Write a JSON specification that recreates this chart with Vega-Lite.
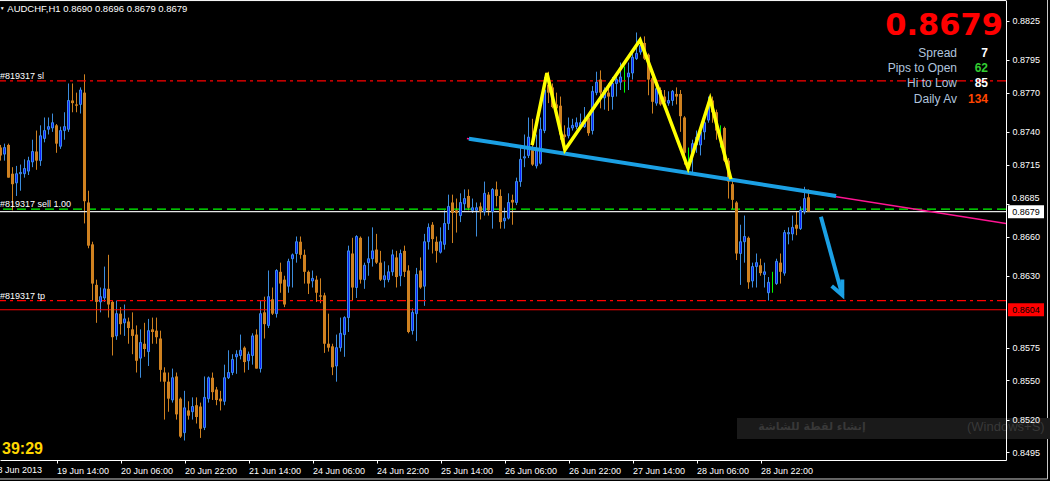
{
"$schema": "https://vega.github.io/schema/vega-lite/v6.json",
"width": 1006, "height": 460,
"autosize": {"type": "none"},
"padding": {"left": 0, "top": 0, "right": 44, "bottom": 21},
"background": "#000000",
"config": {"view": {"stroke": null}, "text": {"font": "Liberation Sans"}},
"datasets": {
"candles": [
{"i":0,"o":0.8728,"h":0.8730,"l":0.8718,"c":0.8722},
{"i":1,"o":0.8723,"h":0.8731,"l":0.8718,"c":0.8728},
{"i":2,"o":0.8730,"h":0.8731,"l":0.8705,"c":0.8705},
{"i":3,"o":0.8708,"h":0.8713,"l":0.8680,"c":0.8700},
{"i":4,"o":0.8701,"h":0.8714,"l":0.8691,"c":0.8708},
{"i":5,"o":0.8708,"h":0.8715,"l":0.8695,"c":0.8709},
{"i":6,"o":0.8708,"h":0.8719,"l":0.8705,"c":0.8712},
{"i":7,"o":0.8710,"h":0.8721,"l":0.8707,"c":0.8718},
{"i":8,"o":0.8717,"h":0.8734,"l":0.8713,"c":0.8725},
{"i":9,"o":0.8725,"h":0.8741,"l":0.8711,"c":0.8718},
{"i":10,"o":0.8718,"h":0.8745,"l":0.8714,"c":0.8737},
{"i":11,"o":0.8735,"h":0.8751,"l":0.8732,"c":0.8741},
{"i":12,"o":0.8742,"h":0.8751,"l":0.8738,"c":0.8744},
{"i":13,"o":0.8743,"h":0.8754,"l":0.8740,"c":0.8747},
{"i":14,"o":0.8745,"h":0.8746,"l":0.8724,"c":0.8731},
{"i":15,"o":0.8729,"h":0.8744,"l":0.8727,"c":0.8741},
{"i":16,"o":0.8741,"h":0.8755,"l":0.8734,"c":0.8744},
{"i":17,"o":0.8742,"h":0.8777,"l":0.8740,"c":0.8764},
{"i":18,"o":0.8764,"h":0.8777,"l":0.8755,"c":0.8762},
{"i":19,"o":0.8761,"h":0.8770,"l":0.8755,"c":0.8760},
{"i":20,"o":0.8761,"h":0.8774,"l":0.8754,"c":0.8772},
{"i":21,"o":0.8770,"h":0.8784,"l":0.8670,"c":0.8687},
{"i":22,"o":0.8686,"h":0.8695,"l":0.8651,"c":0.8653},
{"i":23,"o":0.8654,"h":0.8656,"l":0.8611,"c":0.8624},
{"i":24,"o":0.8623,"h":0.8627,"l":0.8594,"c":0.8610},
{"i":25,"o":0.8610,"h":0.8621,"l":0.8602,"c":0.8614},
{"i":26,"o":0.8613,"h":0.8637,"l":0.8610,"c":0.8620},
{"i":27,"o":0.8620,"h":0.8646,"l":0.8598,"c":0.8608},
{"i":28,"o":0.8610,"h":0.8611,"l":0.8569,"c":0.8583},
{"i":29,"o":0.8584,"h":0.8611,"l":0.8581,"c":0.8601},
{"i":30,"o":0.8601,"h":0.8606,"l":0.8585,"c":0.8593},
{"i":31,"o":0.8594,"h":0.8608,"l":0.8584,"c":0.8597},
{"i":32,"o":0.8595,"h":0.8598,"l":0.8578,"c":0.8590},
{"i":33,"o":0.8589,"h":0.8602,"l":0.8570,"c":0.8584},
{"i":34,"o":0.8585,"h":0.8592,"l":0.8556,"c":0.8565},
{"i":35,"o":0.8567,"h":0.8589,"l":0.8552,"c":0.8579},
{"i":36,"o":0.8578,"h":0.8594,"l":0.8568,"c":0.8574},
{"i":37,"o":0.8572,"h":0.8597,"l":0.8561,"c":0.8588},
{"i":38,"o":0.8589,"h":0.8598,"l":0.8578,"c":0.8587},
{"i":39,"o":0.8588,"h":0.8598,"l":0.8578,"c":0.8583},
{"i":40,"o":0.8582,"h":0.8588,"l":0.8549,"c":0.8558},
{"i":41,"o":0.8556,"h":0.8560,"l":0.8520,"c":0.8549},
{"i":42,"o":0.8549,"h":0.8556,"l":0.8526,"c":0.8536},
{"i":43,"o":0.8535,"h":0.8559,"l":0.8533,"c":0.8552},
{"i":44,"o":0.8553,"h":0.8556,"l":0.8520,"c":0.8524},
{"i":45,"o":0.8536,"h":0.8537,"l":0.8506,"c":0.8507},
{"i":46,"o":0.8510,"h":0.8542,"l":0.8504,"c":0.8529},
{"i":47,"o":0.8527,"h":0.8534,"l":0.8520,"c":0.8523},
{"i":48,"o":0.8526,"h":0.8537,"l":0.8520,"c":0.8530},
{"i":49,"o":0.8531,"h":0.8537,"l":0.8517,"c":0.8522},
{"i":50,"o":0.8530,"h":0.8533,"l":0.8506,"c":0.8513},
{"i":51,"o":0.8514,"h":0.8553,"l":0.8512,"c":0.8537},
{"i":52,"o":0.8536,"h":0.8553,"l":0.8533,"c":0.8552},
{"i":53,"o":0.8552,"h":0.8556,"l":0.8535,"c":0.8541},
{"i":54,"o":0.8543,"h":0.8545,"l":0.8531,"c":0.8535},
{"i":55,"o":0.8536,"h":0.8542,"l":0.8527,"c":0.8534},
{"i":56,"o":0.8534,"h":0.8562,"l":0.8531,"c":0.8552},
{"i":57,"o":0.8552,"h":0.8573,"l":0.8551,"c":0.8556},
{"i":58,"o":0.8556,"h":0.8570,"l":0.8554,"c":0.8566},
{"i":59,"o":0.8568,"h":0.8573,"l":0.8555,"c":0.8570},
{"i":60,"o":0.8569,"h":0.8585,"l":0.8566,"c":0.8573},
{"i":61,"o":0.8575,"h":0.8576,"l":0.8556,"c":0.8564},
{"i":62,"o":0.8565,"h":0.8572,"l":0.8558,"c":0.8570},
{"i":63,"o":0.8569,"h":0.8586,"l":0.8562,"c":0.8584},
{"i":64,"o":0.8585,"h":0.8589,"l":0.8559,"c":0.8559},
{"i":65,"o":0.8559,"h":0.8611,"l":0.8556,"c":0.8601},
{"i":66,"o":0.8602,"h":0.8614,"l":0.8582,"c":0.8593},
{"i":67,"o":0.8592,"h":0.8634,"l":0.8590,"c":0.8614},
{"i":68,"o":0.8612,"h":0.8621,"l":0.8600,"c":0.8601},
{"i":69,"o":0.8601,"h":0.8635,"l":0.8598,"c":0.8634},
{"i":70,"o":0.8633,"h":0.8640,"l":0.8617,"c":0.8624},
{"i":71,"o":0.8627,"h":0.8630,"l":0.8606,"c":0.8608},
{"i":72,"o":0.8622,"h":0.8643,"l":0.8617,"c":0.8641},
{"i":73,"o":0.8643,"h":0.8647,"l":0.8621,"c":0.8646},
{"i":74,"o":0.8647,"h":0.8660,"l":0.8640,"c":0.8656},
{"i":75,"o":0.8656,"h":0.8660,"l":0.8643,"c":0.8646},
{"i":76,"o":0.8646,"h":0.8650,"l":0.8624,"c":0.8633},
{"i":77,"o":0.8633,"h":0.8634,"l":0.8616,"c":0.8624},
{"i":78,"o":0.8626,"h":0.8634,"l":0.8621,"c":0.8628},
{"i":79,"o":0.8627,"h":0.8630,"l":0.8610,"c":0.8617},
{"i":80,"o":0.8615,"h":0.8628,"l":0.8609,"c":0.8614},
{"i":81,"o":0.8615,"h":0.8617,"l":0.8571,"c":0.8578},
{"i":82,"o":0.8578,"h":0.8601,"l":0.8572,"c":0.8575},
{"i":83,"o":0.8576,"h":0.8578,"l":0.8554,"c":0.8560},
{"i":84,"o":0.8561,"h":0.8585,"l":0.8549,"c":0.8575},
{"i":85,"o":0.8575,"h":0.8598,"l":0.8572,"c":0.8586},
{"i":86,"o":0.8585,"h":0.8599,"l":0.8568,"c":0.8598},
{"i":87,"o":0.8598,"h":0.8653,"l":0.8587,"c":0.8649},
{"i":88,"o":0.8647,"h":0.8659,"l":0.8611,"c":0.8621},
{"i":89,"o":0.8621,"h":0.8661,"l":0.8613,"c":0.8660},
{"i":90,"o":0.8659,"h":0.8660,"l":0.8624,"c":0.8627},
{"i":91,"o":0.8627,"h":0.8640,"l":0.8620,"c":0.8638},
{"i":92,"o":0.8640,"h":0.8660,"l":0.8630,"c":0.8643},
{"i":93,"o":0.8643,"h":0.8667,"l":0.8637,"c":0.8649},
{"i":94,"o":0.8650,"h":0.8662,"l":0.8639,"c":0.8640},
{"i":95,"o":0.8640,"h":0.8649,"l":0.8626,"c":0.8627},
{"i":96,"o":0.8627,"h":0.8641,"l":0.8621,"c":0.8630},
{"i":97,"o":0.8627,"h":0.8638,"l":0.8625,"c":0.8633},
{"i":98,"o":0.8633,"h":0.8650,"l":0.8630,"c":0.8646},
{"i":99,"o":0.8644,"h":0.8649,"l":0.8621,"c":0.8629},
{"i":100,"o":0.8630,"h":0.8650,"l":0.8622,"c":0.8647},
{"i":101,"o":0.8649,"h":0.8653,"l":0.8629,"c":0.8633},
{"i":102,"o":0.8634,"h":0.8638,"l":0.8586,"c":0.8587},
{"i":103,"o":0.8588,"h":0.8605,"l":0.8585,"c":0.8602},
{"i":104,"o":0.8601,"h":0.8636,"l":0.8580,"c":0.8631},
{"i":105,"o":0.8634,"h":0.8644,"l":0.8620,"c":0.8621},
{"i":106,"o":0.8622,"h":0.8662,"l":0.8607,"c":0.8656},
{"i":107,"o":0.8656,"h":0.8670,"l":0.8650,"c":0.8667},
{"i":108,"o":0.8669,"h":0.8671,"l":0.8647,"c":0.8658},
{"i":109,"o":0.8656,"h":0.8660,"l":0.8640,"c":0.8649},
{"i":110,"o":0.8648,"h":0.8667,"l":0.8647,"c":0.8656},
{"i":111,"o":0.8654,"h":0.8680,"l":0.8650,"c":0.8670},
{"i":112,"o":0.8670,"h":0.8692,"l":0.8665,"c":0.8683},
{"i":113,"o":0.8686,"h":0.8692,"l":0.8655,"c":0.8678},
{"i":114,"o":0.8680,"h":0.8689,"l":0.8663,"c":0.8678},
{"i":115,"o":0.8676,"h":0.8693,"l":0.8671,"c":0.8686},
{"i":116,"o":0.8685,"h":0.8696,"l":0.8680,"c":0.8689},
{"i":117,"o":0.8691,"h":0.8696,"l":0.8680,"c":0.8682},
{"i":118,"o":0.8680,"h":0.8689,"l":0.8678,"c":0.8682},
{"i":119,"o":0.8680,"h":0.8686,"l":0.8660,"c":0.8682},
{"i":120,"o":0.8683,"h":0.8686,"l":0.8673,"c":0.8679},
{"i":121,"o":0.8679,"h":0.8702,"l":0.8676,"c":0.8693},
{"i":122,"o":0.8692,"h":0.8694,"l":0.8676,"c":0.8680},
{"i":123,"o":0.8679,"h":0.8697,"l":0.8666,"c":0.8696},
{"i":124,"o":0.8696,"h":0.8702,"l":0.8683,"c":0.8691},
{"i":125,"o":0.8691,"h":0.8696,"l":0.8666,"c":0.8671},
{"i":126,"o":0.8672,"h":0.8682,"l":0.8666,"c":0.8674},
{"i":127,"o":0.8674,"h":0.8693,"l":0.8673,"c":0.8686},
{"i":128,"o":0.8688,"h":0.8692,"l":0.8669,"c":0.8686},
{"i":129,"o":0.8686,"h":0.8705,"l":0.8684,"c":0.8702},
{"i":130,"o":0.8702,"h":0.8730,"l":0.8698,"c":0.8719},
{"i":131,"o":0.8720,"h":0.8738,"l":0.8713,"c":0.8721},
{"i":132,"o":0.8722,"h":0.8751,"l":0.8720,"c":0.8736},
{"i":133,"o":0.8726,"h":0.8750,"l":0.8714,"c":0.8715},
{"i":134,"o":0.8714,"h":0.8738,"l":0.8712,"c":0.8726},
{"i":135,"o":0.8716,"h":0.8751,"l":0.8715,"c":0.8742},
{"i":136,"o":0.8741,"h":0.8782,"l":0.8739,"c":0.8772},
{"i":137,"o":0.8776,"h":0.8786,"l":0.8762,"c":0.8770},
{"i":138,"o":0.8774,"h":0.8777,"l":0.8758,"c":0.8759},
{"i":139,"o":0.8761,"h":0.8770,"l":0.8757,"c":0.8758},
{"i":140,"o":0.8760,"h":0.8767,"l":0.8734,"c":0.8738},
{"i":141,"o":0.8738,"h":0.8745,"l":0.8730,"c":0.8736},
{"i":142,"o":0.8737,"h":0.8751,"l":0.8735,"c":0.8743},
{"i":143,"o":0.8743,"h":0.8750,"l":0.8741,"c":0.8745},
{"i":144,"o":0.8744,"h":0.8751,"l":0.8742,"c":0.8747},
{"i":145,"o":0.8744,"h":0.8754,"l":0.8742,"c":0.8747},
{"i":146,"o":0.8744,"h":0.8759,"l":0.8743,"c":0.8747},
{"i":147,"o":0.8751,"h":0.8752,"l":0.8737,"c":0.8739},
{"i":148,"o":0.8741,"h":0.8775,"l":0.8738,"c":0.8771},
{"i":149,"o":0.8770,"h":0.8786,"l":0.8768,"c":0.8778},
{"i":150,"o":0.8780,"h":0.8787,"l":0.8758,"c":0.8770},
{"i":151,"o":0.8766,"h":0.8774,"l":0.8757,"c":0.8772},
{"i":152,"o":0.8770,"h":0.8777,"l":0.8756,"c":0.8767},
{"i":153,"o":0.8767,"h":0.8782,"l":0.8757,"c":0.8777},
{"i":154,"o":0.8777,"h":0.8782,"l":0.8767,"c":0.8780},
{"i":155,"o":0.8778,"h":0.8793,"l":0.8772,"c":0.8782},
{"i":156,"o":0.8782,"h":0.8790,"l":0.8770,"c":0.8782},
{"i":157,"o":0.8782,"h":0.8793,"l":0.8772,"c":0.8785},
{"i":158,"o":0.8785,"h":0.8801,"l":0.8780,"c":0.8797},
{"i":159,"o":0.8796,"h":0.8816,"l":0.8795,"c":0.8800},
{"i":160,"o":0.8801,"h":0.8812,"l":0.8799,"c":0.8806},
{"i":161,"o":0.8808,"h":0.8813,"l":0.8795,"c":0.8796},
{"i":162,"o":0.8799,"h":0.8800,"l":0.8768,"c":0.8780},
{"i":163,"o":0.8781,"h":0.8785,"l":0.8754,"c":0.8763},
{"i":164,"o":0.8762,"h":0.8780,"l":0.8760,"c":0.8773},
{"i":165,"o":0.8772,"h":0.8774,"l":0.8760,"c":0.8761},
{"i":166,"o":0.8767,"h":0.8772,"l":0.8760,"c":0.8763},
{"i":167,"o":0.8762,"h":0.8771,"l":0.8760,"c":0.8764},
{"i":168,"o":0.8764,"h":0.8772,"l":0.8760,"c":0.8771},
{"i":169,"o":0.8769,"h":0.8774,"l":0.8761,"c":0.8767},
{"i":170,"o":0.8769,"h":0.8772,"l":0.8740,"c":0.8752},
{"i":171,"o":0.8751,"h":0.8752,"l":0.8715,"c":0.8724},
{"i":172,"o":0.8722,"h":0.8728,"l":0.8713,"c":0.8722},
{"i":173,"o":0.8724,"h":0.8734,"l":0.8708,"c":0.8731},
{"i":174,"o":0.8730,"h":0.8741,"l":0.8724,"c":0.8736},
{"i":175,"o":0.8730,"h":0.8744,"l":0.8722,"c":0.8740},
{"i":176,"o":0.8740,"h":0.8751,"l":0.8734,"c":0.8747},
{"i":177,"o":0.8749,"h":0.8767,"l":0.8747,"c":0.8762},
{"i":178,"o":0.8764,"h":0.8767,"l":0.8747,"c":0.8755},
{"i":179,"o":0.8755,"h":0.8757,"l":0.8734,"c":0.8741},
{"i":180,"o":0.8743,"h":0.8745,"l":0.8728,"c":0.8743},
{"i":181,"o":0.8743,"h":0.8744,"l":0.8717,"c":0.8718},
{"i":182,"o":0.8718,"h":0.8720,"l":0.8689,"c":0.8702},
{"i":183,"o":0.8700,"h":0.8703,"l":0.8681,"c":0.8688},
{"i":184,"o":0.8686,"h":0.8687,"l":0.8642,"c":0.8647},
{"i":185,"o":0.8647,"h":0.8669,"l":0.8623,"c":0.8656},
{"i":186,"o":0.8656,"h":0.8676,"l":0.8640,"c":0.8660},
{"i":187,"o":0.8659,"h":0.8660,"l":0.8620,"c":0.8625},
{"i":188,"o":0.8626,"h":0.8640,"l":0.8621,"c":0.8637},
{"i":189,"o":0.8637,"h":0.8647,"l":0.8621,"c":0.8640},
{"i":190,"o":0.8638,"h":0.8643,"l":0.8630,"c":0.8632},
{"i":191,"o":0.8631,"h":0.8640,"l":0.8621,"c":0.8633},
{"i":192,"o":0.8617,"h":0.8629,"l":0.8611,"c":0.8625},
{"i":193,"o":0.8624,"h":0.8633,"l":0.8617,"c":0.8624},
{"i":194,"o":0.8624,"h":0.8643,"l":0.8623,"c":0.8641},
{"i":195,"o":0.8640,"h":0.8647,"l":0.8624,"c":0.8633},
{"i":196,"o":0.8632,"h":0.8665,"l":0.8630,"c":0.8663},
{"i":197,"o":0.8662,"h":0.8667,"l":0.8654,"c":0.8663},
{"i":198,"o":0.8662,"h":0.8676,"l":0.8657,"c":0.8667},
{"i":199,"o":0.8669,"h":0.8679,"l":0.8661,"c":0.8666},
{"i":200,"o":0.8666,"h":0.8683,"l":0.8665,"c":0.8680},
{"i":201,"o":0.8679,"h":0.8698,"l":0.8677,"c":0.8689},
{"i":202,"o":0.8690,"h":0.8696,"l":0.8679,"c":0.8679}
],
"levels": [
{"name":"sl","price":0.8779,"label":"#819317 sl"},
{"name":"sell","price":0.8681,"label":"#819317 sell 1.00"},
{"name":"bid","price":0.8679,"label":""},
{"name":"tp","price":0.8611,"label":"#819317 tp"},
{"name":"alert","price":0.8604,"label":""}
],
"boxes": [
{"kind":"bid","price":0.8679,"text":"0.8679"},
{"kind":"alert","price":0.8604,"text":"0.8604"}
],
"trend": [
{"line":"ray","k":116.6,"p":0.87349},
{"line":"ray","k":251.375,"p":0.86700},
{"line":"seg","k":117.1,"p":0.87348},
{"line":"seg","k":208.9,"p":0.86909}
],
"zig": [
{"ord":0,"k":132.9,"p":0.87299},
{"ord":1,"k":136.6,"p":0.87850},
{"ord":2,"k":141.1,"p":0.87261},
{"ord":3,"k":159.9,"p":0.88102},
{"ord":4,"k":171.9,"p":0.87123},
{"ord":5,"k":177.4,"p":0.87651},
{"ord":6,"k":182.6,"p":0.87039}
],
"arrow": [
{"seg":"shaft","ord":0,"k":205.1,"p":0.86751},
{"seg":"shaft","ord":1,"k":210.45,"p":0.86152},
{"seg":"head","ord":0,"k":207.8,"p":0.86221},
{"seg":"head","ord":1,"k":210.45,"p":0.86152},
{"seg":"head","ord":2,"k":210.45,"p":0.86272}
],
"notes": [
{"id":"tri","text":"▼"},
{"id":"title","text":"AUDCHF,H1  0.8690 0.8696 0.8679 0.8679"},
{"id":"big","text":"0.8679"},
{"id":"l1","text":"Spread"},
{"id":"l2","text":"Pips to Open"},
{"id":"l3","text":"Hi to Low"},
{"id":"l4","text":"Daily Av"},
{"id":"v1","text":"7"},
{"id":"v2","text":"62"},
{"id":"v3","text":"85"},
{"id":"v4","text":"134"},
{"id":"timer","text":"39:29"},
{"id":"tipar","text":"إنشاء لقطة للشاشة"},
{"id":"tipen","text":"(Windows+S)"},
{"id":"firstdate","text":"18 Jun 2013"},
{"id":"ylab","text":"0.8685"}
]
},
"layer": [
{"data":{"name":"candles"},"mark":{"type":"rule","strokeWidth":1},
 "encoding":{
  "x":{"field":"i","type":"quantitative","scale":{"type":"linear","domain":[-0.125,251.375],"nice":false,"zero":false,"padding":0},
   "axis":{"orient":"bottom","values":[14,30,46,62,78,94,110,126,142,158,174,190],
    "labelExpr":"['18 Jun 2013','19 Jun 14:00','20 Jun 06:00','20 Jun 22:00','21 Jun 14:00','24 Jun 06:00','24 Jun 22:00','25 Jun 14:00','26 Jun 06:00','26 Jun 22:00','27 Jun 14:00','28 Jun 06:00','28 Jun 22:00'][(datum.value+2)/16]",
    "labelAlign":"left","labelBaseline":"top","labelPadding":3,"tickSize":3,"tickColor":"#FFFFFF","domainColor":"#FFFFFF","labelColor":"#FFFFFF",
    "labelFont":"Liberation Sans","labelFontSize":9,"labelOverlap":false,"labelFlush":false,"labelBound":false,"grid":false,"title":null}},
  "y":{"field":"l","type":"quantitative","scale":{"type":"linear","domain":[0.848911,0.884083],"nice":false,"zero":false,"padding":0},
   "axis":{"orient":"right","values":[0.8825,0.8795,0.877,0.874,0.8715,0.8685,0.866,0.863,0.8575,0.855,0.852,0.8495],
    "labelExpr":"datum.value == 0.8685 ? '' : format(datum.value, '.4f')",
    "labelPadding":3,"tickSize":3,"tickColor":"#FFFFFF","domainColor":"#FFFFFF","labelColor":"#FFFFFF","labelFont":"Liberation Sans","labelFontSize":9,
    "labelOverlap":false,"labelFlush":false,"labelBound":false,"grid":false,"title":null,"zindex":1}},
  "y2":{"field":"h"},
  "color":{"condition":[{"test":"datum.c > datum.o","value":"#3C8CDC"},{"test":"datum.c < datum.o","value":"#CF8120"}],"value":"#00FF00"}}},
{"data":{"values":[{}]},"mark":{"type":"rule","color":"#FFFFFF","strokeWidth":1},
 "encoding":{"y":{"datum":0.88404,"type":"quantitative"}}},
{"data":{"values":[{}]},"mark":{"type":"rule","color":"#C8C8C8","strokeWidth":1},
 "encoding":{"x":{"datum":261.75,"type":"quantitative"},"y":{"datum":0.884083,"type":"quantitative"},"y2":{"datum":0.847459}}},
{"data":{"values":[{}]},"mark":{"type":"rule","color":"#C8C8C8","strokeWidth":1},
 "encoding":{"x":{"datum":-0.125,"type":"quantitative"},"x2":{"datum":261.75},"y":{"datum":0.847459,"type":"quantitative"}}},
{"data":{"name":"levels"},"transform":[{"filter":"datum.name == 'sl' || datum.name == 'tp'"}],
 "mark":{"type":"rule","strokeWidth":1.2,"color":"#FF0000","strokeDash":[9,4,3,4]},
 "encoding":{"y":{"field":"price","type":"quantitative"}}},
{"data":{"name":"levels"},"transform":[{"filter":"datum.name == 'sell'"}],
 "mark":{"type":"rule","strokeWidth":1.3,"color":"#00FF00","strokeDash":[9,5]},
 "encoding":{"y":{"field":"price","type":"quantitative"}}},
{"data":{"name":"levels"},"transform":[{"filter":"datum.name == 'bid'"}],
 "mark":{"type":"rule","strokeWidth":1.2,"color":"#E6E6E6"},
 "encoding":{"y":{"field":"price","type":"quantitative"}}},
{"data":{"name":"levels"},"transform":[{"filter":"datum.name == 'alert'"}],
 "mark":{"type":"rule","strokeWidth":1.2,"color":"#FF0000"},
 "encoding":{"y":{"field":"price","type":"quantitative"}}},
{"data":{"name":"levels"},"transform":[{"filter":"datum.label != ''"}],
 "mark":{"type":"text","align":"left","baseline":"alphabetic","dy":-2,"fontSize":9,"color":"#FFFFFF"},
 "encoding":{"x":{"datum":-0.125,"type":"quantitative"},
  "y":{"field":"price","type":"quantitative"},
  "text":{"field":"label"}}},
{"data":{"name":"candles"},"transform":[{"filter":"datum.c < datum.o"}],
 "mark":{"type":"bar","width":3,"color":"#CF8120"},
 "encoding":{"x":{"field":"i","type":"quantitative"},
  "y":{"field":"o","type":"quantitative"},
  "y2":{"field":"c"}}},
{"data":{"name":"candles"},"transform":[{"filter":"datum.c > datum.o"}],
 "mark":{"type":"bar","width":2,"fill":"#0A1EFF","stroke":"#3C8CE6","strokeWidth":1},
 "encoding":{"x":{"field":"i","type":"quantitative"},
  "y":{"field":"o","type":"quantitative"},
  "y2":{"field":"c"}}},
{"data":{"name":"trend"},"transform":[{"filter":"datum.line == 'ray'"}],
 "mark":{"type":"line","color":"#FF1493","strokeWidth":1.5,"clip":true},
 "encoding":{"x":{"field":"k","type":"quantitative"},
  "y":{"field":"p","type":"quantitative"}}},
{"data":{"name":"trend"},"transform":[{"filter":"datum.line == 'seg'"}],
 "mark":{"type":"line","color":"#1BA0E4","strokeWidth":4},
 "encoding":{"x":{"field":"k","type":"quantitative"},
  "y":{"field":"p","type":"quantitative"}}},
{"data":{"name":"zig"},
 "mark":{"type":"line","color":"#FFFF00","strokeWidth":3.5,"strokeJoin":"miter"},
 "encoding":{"x":{"field":"k","type":"quantitative"},
  "y":{"field":"p","type":"quantitative"},
  "order":{"field":"ord","type":"quantitative"}}},
{"data":{"name":"arrow"},
 "mark":{"type":"line","color":"#1BA0E4","strokeWidth":4,"strokeJoin":"miter"},
 "encoding":{"x":{"field":"k","type":"quantitative"},
  "y":{"field":"p","type":"quantitative"},
  "detail":{"field":"seg","type":"nominal"},
  "order":{"field":"ord","type":"quantitative"}}},
{"data":{"values":[{}]},
 "mark":{"type":"rect","color":"#1A1A1A"},
 "encoding":{"x":{"datum":184.125,"type":"quantitative"},
  "x2":{"datum":262.375},
  "y":{"datum":0.852123,"type":"quantitative"},
  "y2":{"datum":0.850517}}},
{"data":{"name":"notes"},"transform":[{"filter":"datum.id == 'tipar'"}],
 "mark":{"type":"text","font":"DejaVu Sans","fontSize":11,"fontWeight":"bold","color":"#383838","align":"center","baseline":"middle"},
 "encoding":{"x":{"datum":202.875,"type":"quantitative"},
  "y":{"datum":0.851435,"type":"quantitative"},
  "text":{"field":"text"}}},
{"data":{"name":"notes"},"transform":[{"filter":"datum.id == 'tipen'"}],
 "mark":{"type":"text","fontSize":13,"color":"#383838","align":"left","baseline":"middle"},
 "encoding":{"x":{"datum":241.625,"type":"quantitative"},
  "y":{"datum":0.851435,"type":"quantitative"},
  "text":{"field":"text"}}},
{"data":{"name":"boxes"},"transform":[{"filter":"datum.kind == 'bid'"}],
 "mark":{"type":"bar","height":13,"color":"#FFFFFF"},
 "encoding":{"x":{"datum":251.875,"type":"quantitative"},
  "x2":{"datum":260.875},
  "y":{"field":"price","type":"quantitative"}}},
{"data":{"name":"boxes"},"transform":[{"filter":"datum.kind == 'alert'"}],
 "mark":{"type":"bar","height":13,"color":"#FF0000"},
 "encoding":{"x":{"datum":251.875,"type":"quantitative"},
  "x2":{"datum":260.875},
  "y":{"field":"price","type":"quantitative"}}},
{"data":{"name":"boxes"},
 "mark":{"type":"text","fontSize":9,"align":"center","baseline":"middle","color":"#000000"},
 "encoding":{"x":{"datum":256.375,"type":"quantitative"},
  "y":{"field":"price","type":"quantitative"},
  "text":{"field":"text"}}},
{"data":{"name":"notes"},"transform":[{"filter":"datum.id == 'ylab'"}],
 "mark":{"type":"text","fontSize":9,"align":"left","baseline":"middle","dy":-6,"color":"#FFFFFF"},
 "encoding":{"x":{"datum":252.875,"type":"quantitative"},
  "y":{"datum":0.8685,"type":"quantitative"},
  "text":{"field":"text"}}},
{"data":{"name":"notes"},"transform":[{"filter":"datum.id == 'firstdate'"}],
 "mark":{"type":"text","fontSize":9,"align":"left","baseline":"top","dy":6,"color":"#FFFFFF"},
 "encoding":{"x":{"datum":-2,"type":"quantitative"},
  "y":{"datum":0.848911,"type":"quantitative"},
  "text":{"field":"text"}}},
{"data":{"name":"notes"},"transform":[{"filter":"datum.id == 'tri'"}],
 "mark":{"type":"text","fontSize":5,"color":"#FFFFFF","align":"center","baseline":"middle"},
 "encoding":{"x":{"datum":0.45,"type":"quantitative"},
  "y":{"datum":0.883448,"type":"quantitative"},
  "text":{"field":"text"}}},
{"data":{"name":"notes"},"transform":[{"filter":"datum.id == 'title'"}],
 "mark":{"type":"text","fontSize":9.5,"color":"#FFFFFF","align":"left","baseline":"alphabetic"},
 "encoding":{"x":{"datum":1.7,"type":"quantitative"},
  "y":{"datum":0.883143,"type":"quantitative"},
  "text":{"field":"text"}}},
{"data":{"name":"notes"},"transform":[{"filter":"datum.id == 'big'"}],
 "mark":{"type":"text","font":"DejaVu Sans","fontWeight":"bold","fontSize":30.5,"color":"#FF0000","align":"right","baseline":"alphabetic"},
 "encoding":{"x":{"datum":250.625,"type":"quantitative"},
  "y":{"datum":0.881407,"type":"quantitative"},
  "text":{"field":"text"}}},
{"data":{"name":"notes"},"transform":[{"filter":"datum.id == 'l1'"}],
 "mark":{"type":"text","fontSize":12,"color":"#B0C4DE","align":"right","baseline":"middle"},
 "encoding":{"x":{"datum":239.125,"type":"quantitative"},
  "y":{"datum":0.880031,"type":"quantitative"},
  "text":{"field":"text"}}},
{"data":{"name":"notes"},"transform":[{"filter":"datum.id == 'l2'"}],
 "mark":{"type":"text","fontSize":12,"color":"#B0C4DE","align":"right","baseline":"middle"},
 "encoding":{"x":{"datum":239.125,"type":"quantitative"},
  "y":{"datum":0.878884,"type":"quantitative"},
  "text":{"field":"text"}}},
{"data":{"name":"notes"},"transform":[{"filter":"datum.id == 'l3'"}],
 "mark":{"type":"text","fontSize":12,"color":"#B0C4DE","align":"right","baseline":"middle"},
 "encoding":{"x":{"datum":239.125,"type":"quantitative"},
  "y":{"datum":0.877699,"type":"quantitative"},
  "text":{"field":"text"}}},
{"data":{"name":"notes"},"transform":[{"filter":"datum.id == 'l4'"}],
 "mark":{"type":"text","fontSize":12,"color":"#B0C4DE","align":"right","baseline":"middle"},
 "encoding":{"x":{"datum":239.125,"type":"quantitative"},
  "y":{"datum":0.876513,"type":"quantitative"},
  "text":{"field":"text"}}},
{"data":{"name":"notes"},"transform":[{"filter":"datum.id == 'v1'"}],
 "mark":{"type":"text","fontSize":12,"fontWeight":"bold","color":"#FFFFFF","align":"right","baseline":"middle"},
 "encoding":{"x":{"datum":246.875,"type":"quantitative"},
  "y":{"datum":0.880031,"type":"quantitative"},
  "text":{"field":"text"}}},
{"data":{"name":"notes"},"transform":[{"filter":"datum.id == 'v2'"}],
 "mark":{"type":"text","fontSize":12,"fontWeight":"bold","color":"#32CD32","align":"right","baseline":"middle"},
 "encoding":{"x":{"datum":246.875,"type":"quantitative"},
  "y":{"datum":0.878884,"type":"quantitative"},
  "text":{"field":"text"}}},
{"data":{"name":"notes"},"transform":[{"filter":"datum.id == 'v3'"}],
 "mark":{"type":"text","fontSize":12,"fontWeight":"bold","color":"#FFFFFF","align":"right","baseline":"middle"},
 "encoding":{"x":{"datum":246.875,"type":"quantitative"},
  "y":{"datum":0.877699,"type":"quantitative"},
  "text":{"field":"text"}}},
{"data":{"name":"notes"},"transform":[{"filter":"datum.id == 'v4'"}],
 "mark":{"type":"text","fontSize":12,"fontWeight":"bold","color":"#FF4500","align":"right","baseline":"middle"},
 "encoding":{"x":{"datum":246.875,"type":"quantitative"},
  "y":{"datum":0.876513,"type":"quantitative"},
  "text":{"field":"text"}}},
{"data":{"name":"notes"},"transform":[{"filter":"datum.id == 'timer'"}],
 "mark":{"type":"text","fontSize":16,"fontWeight":"bold","color":"#FFD700","align":"left","baseline":"alphabetic"},
 "encoding":{"x":{"datum":0.375,"type":"quantitative"},
  "y":{"datum":0.84937,"type":"quantitative"},
  "text":{"field":"text"}}}
]
}
